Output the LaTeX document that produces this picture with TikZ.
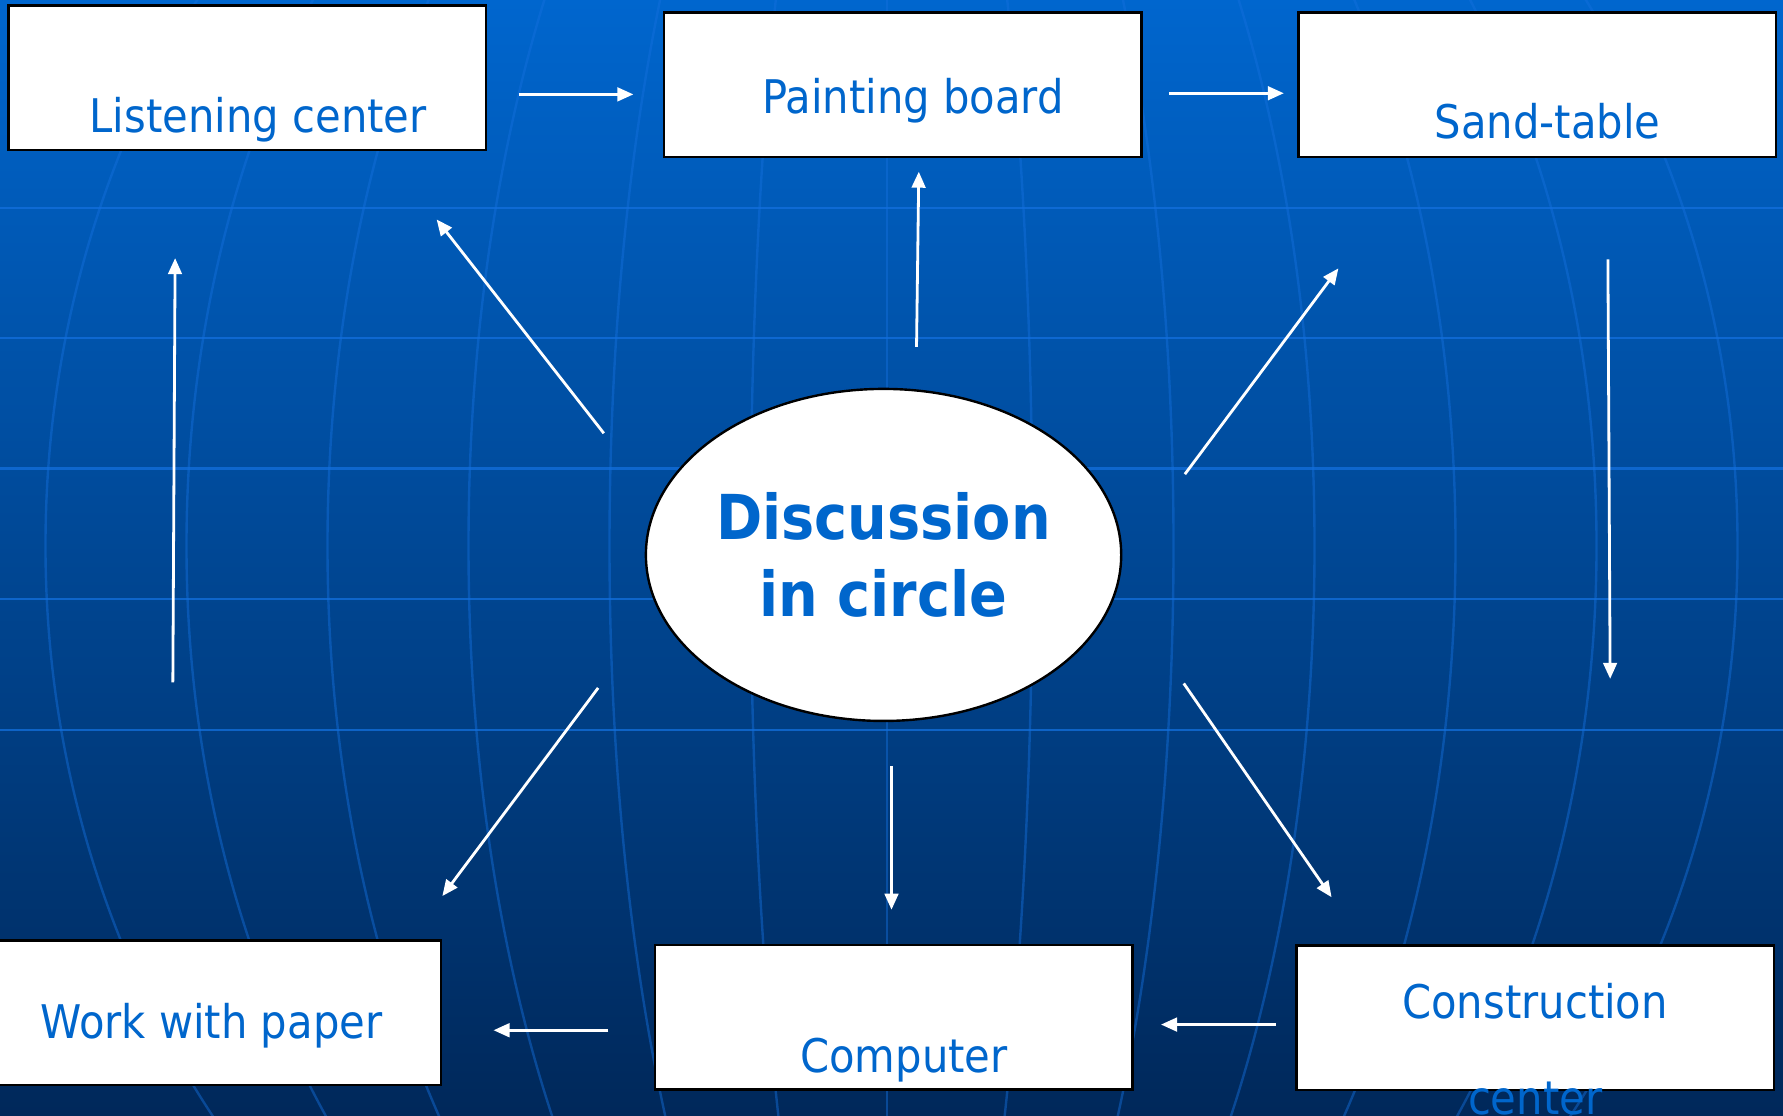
\documentclass[tikz,border=0pt]{standalone}
\usepackage{fontspec}
\setmainfont{DejaVu Sans Condensed}
\usetikzlibrary{arrows.meta,shapes.geometric}

\definecolor{slideblue}{RGB}{0,102,204}
\definecolor{skytop}{RGB}{0,102,206}
\definecolor{skybottom}{RGB}{0,40,90}
\definecolor{gridblue}{RGB}{20,112,222}

\tikzset{
  station/.style={draw=black, line width=0.6pt, fill=white, minimum width=4.2cm, minimum height=1.27cm, inner sep=0pt},
  stationtext/.style={text=slideblue, font=\fontsize{11.6}{23.9}\selectfont, anchor=base, align=center, inner sep=0pt},
  hub/.style={ellipse, draw=black, line width=0.6pt, fill=white, minimum width=4.18cm, minimum height=2.92cm, inner sep=0pt,
    text=slideblue, font=\fontsize{15.5}{19.3}\selectfont\bfseries, align=center},
  flow/.style={draw=white, line width=0.7pt, -{Triangle[length=4pt,width=3.4pt]}},
  gridrule/.style={draw=gridblue, line width=0.6pt},
}

\begin{document}
\begin{tikzpicture}
    % Background
    \fill[top color=skytop, bottom color=skybottom] (0,0) rectangle (15.68,-9.81);
    \useasboundingbox (0,0) rectangle (15.68,-9.81);
    \begin{scope}
        \clip (0,0) rectangle (15.68,-9.81);
        \foreach \y in {1.83, 2.97, 4.12, 5.27, 6.42}
            \draw[gridrule, opacity=0.75] (0,-\y) -- (15.68,-\y);
        \draw[gridrule, opacity=0.45] (7.80,0) -- (7.80,-9.81);
        \foreach \a in {1.24, 2.48, 3.72, 4.96, 6.20, 7.44}
            \draw[gridrule, opacity=0.45] (7.84,-4.80) ellipse [x radius=\a, y radius=8.4];
    \end{scope}

    % Stations
    \node[station] (listen) at (2.175,-0.685) {};
    \node[station] (paint) at (7.94,-0.745) {};
    \node[station] (sand) at (13.52,-0.745) {};
    \node[station] (paper) at (1.78,-8.905) {};
    \node[station] (comp) at (7.86,-8.945) {};
    \node[station] (build) at (13.50,-8.95) {};
    \node[hub] (circle) at (7.77,-4.88) {Discussion\\in circle};

    % Station texts
    \node[stationtext] (listen-t) at (2.27,-1.165) {Listening center};
    \node[stationtext] (paint-t) at (8.03,-1.00) {Painting board};
    \node[stationtext] (sand-t) at (13.61,-1.22) {Sand-table};
    \node[stationtext] (paper-t) at (1.86,-9.13) {Work with paper};
    \node[stationtext] (comp-t) at (7.95,-9.43) {Computer};
    \node[stationtext] (build-t) at (13.50,-9.80) {Construction\\center};

    % Arrow ends
    \coordinate (a1) at (4.56,-0.83);   \coordinate (a2) at (5.57,-0.83);
    \coordinate (b1) at (10.28,-0.82);  \coordinate (b2) at (11.29,-0.82);
    \coordinate (c1) at (14.14,-2.28);  \coordinate (c2) at (14.16,-5.97);
    \coordinate (d1) at (11.22,-9.01);  \coordinate (d2) at (10.21,-9.01);
    \coordinate (e1) at (5.35,-9.06);   \coordinate (e2) at (4.34,-9.06);
    \coordinate (f1) at (1.52,-6.00);   \coordinate (f2) at (1.54,-2.27);
    \coordinate (g1) at (5.31,-3.81);   \coordinate (g2) at (3.84,-1.93);
    \coordinate (h1) at (8.06,-3.05);   \coordinate (h2) at (8.08,-1.51);
    \coordinate (i1) at (10.42,-4.17);  \coordinate (i2) at (11.77,-2.36);
    \coordinate (j1) at (10.41,-6.01);  \coordinate (j2) at (11.71,-7.89);
    \coordinate (k1) at (7.84,-6.74);   \coordinate (k2) at (7.84,-8.00);
    \coordinate (l1) at (5.26,-6.05);   \coordinate (l2) at (3.89,-7.88);

    % Arrows
    \foreach \p in {a, b, c, d, e, f, g, h, i, j, k, l}
        \draw[flow] (\p1) -- (\p2);
\end{tikzpicture}
\end{document}
